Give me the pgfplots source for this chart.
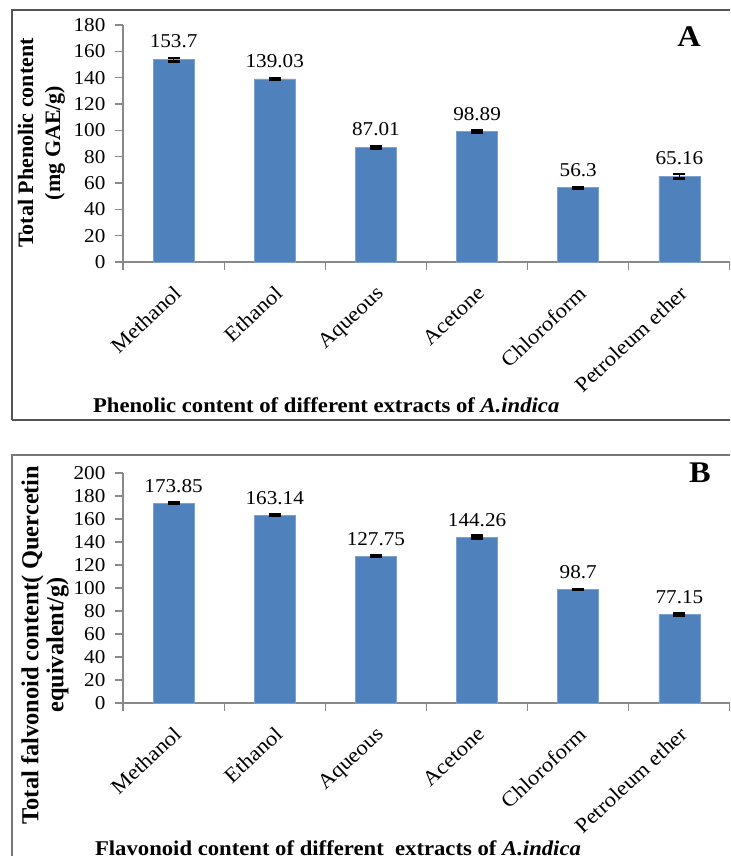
\documentclass[border=0pt]{standalone}
\usepackage{pgfplots}
\pgfplotsset{compat=1.18}
\usepackage{pgfplotstable}
\usepackage{fontspec}
\setmainfont[FakeStretch=1.08]{Liberation Serif}
\newfontfamily\ylabfont{Liberation Serif}
\definecolor{barblue}{RGB}{79,129,189}
\definecolor{baredge}{RGB}{125,160,205}
\definecolor{axgray}{RGB}{137,137,137}
\definecolor{framegray}{RGB}{85,85,85}

\pgfplotstableread{
x y err label
0 153.7 1.2 153.7
1 139.03 0.5 139.03
2 87.01 0.6 87.01
3 98.89 1.0 98.89
4 56.3 0.6 56.3
5 65.16 1.6 65.16
}\tabA

\pgfplotstableread{
x y err label
0 173.85 0.6 173.85
1 163.14 0.6 163.14
2 127.75 0.7 127.75
3 144.26 1.3 144.26
4 98.7 0.6 98.7
5 77.15 1.2 77.15
}\tabB

\pgfplotsset{
  panel/.style={
    scale only axis,
    width=303.5pt,
    xmin=-0.5, xmax=5.5,
    ymin=0,
    axis x line*=bottom,
    axis y line*=left,
    axis line style={-, draw=axgray, line width=0.6pt},
    tick align=outside,
    major tick length=3.8pt,
    tick style={draw=axgray, line width=0.6pt},
    xtick={-0.5,0.5,...,5.5},
    xticklabels={{},{},{},{},{},{},{}},
    extra x ticks={0,1,2,3,4,5},
    extra x tick labels={Methanol,Ethanol,Aqueous,Acetone,Chloroform,Petroleum ether},
    extra x tick style={major tick length=0pt},
    xticklabel style={xshift=-0.5pt, yshift=-11pt, rotate=43, anchor=north east, inner sep=0pt,
        font=\fontsize{10.5}{12}\selectfont},
    yticklabel style={font=\fontsize{9.8}{11}\selectfont, xshift=-1.5pt},
    /pgf/number format/assume math mode=true,
    clip=false,
  },
  barstyle/.style={
    ybar, bar width=20.5pt, fill=barblue, draw=baredge, line width=0.4pt,
    error bars/.cd, y dir=both, y explicit,
    error bar style={black, line width=0.7pt},
    error mark options={black, rotate=90, mark size=3pt, line width=1.3pt},
  },
}

\begin{document}
\begin{tikzpicture}
\clip (0pt,0pt) rectangle (365pt,428pt);
\fill[white] (0pt,0pt) rectangle (365pt,428pt);
% frames
\draw[framegray, line width=0.8pt] (6pt,218pt) -- (6pt,423pt) -- (380pt,423pt);
\draw[framegray, line width=0.8pt] (6pt,218pt) -- (380pt,218pt);
\draw[framegray!80, line width=1pt] (6pt,-10pt) -- (6pt,200.5pt) -- (380pt,200.5pt);

% Panel A
\begin{axis}[panel,
  at={(61.5pt,297pt)}, anchor=south west,
  height=118.5pt, ymax=180, ytick={0,20,...,180},
  nodes near coords={\pgfplotspointmeta},
  point meta=explicit symbolic,
  every node near coord/.append style={anchor=south, inner sep=0pt, yshift=5.5pt, black,
    font=\fontsize{9.8}{11}\selectfont},
]
\addplot[barstyle] table[x=x, y=y, y error=err, meta=label] {\tabA};
\end{axis}

% Panel B
\begin{axis}[panel,
  at={(61.5pt,76.5pt)}, anchor=south west,
  height=115pt, ymax=200, ytick={0,20,...,200},
  nodes near coords={\pgfplotspointmeta},
  point meta=explicit symbolic,
  every node near coord/.append style={anchor=south, inner sep=0pt, yshift=5pt, black,
    font=\fontsize{9.8}{11}\selectfont},
]
\addplot[barstyle] table[x=x, y=y, y error=err, meta=label] {\tabB};
\end{axis}

% Y labels
\node[rotate=90, align=center, font=\ylabfont\bfseries\fontsize{11}{13.5}\selectfont]
  at (20.75pt,356.5pt) {Total Phenolic content\\(mg GAE/g)};
\node[rotate=90, align=center, font=\ylabfont\bfseries\fontsize{12.2}{12.5}\selectfont]
  at (22.5pt,105.5pt) {Total falvonoid content( Quercetin\\equivalent/g)};

% Panel letters
\node[font=\bfseries\fontsize{15}{17}\selectfont] at (344.5pt,409.5pt) {A};
\node[font=\bfseries\fontsize{15}{17}\selectfont] at (350pt,191.5pt) {B};

% Bottom titles
\node[anchor=west, font=\bfseries\fontsize{10.5}{12}\selectfont] at (43pt,225.5pt)
  {Phenolic content of different extracts of \textit{A.indica}};
\node[anchor=west, font=\bfseries\fontsize{10.5}{12}\selectfont] at (44pt,4pt)
  {Flavonoid content of different\ \ extracts of \textit{A.indica}};
\end{tikzpicture}
\end{document}
